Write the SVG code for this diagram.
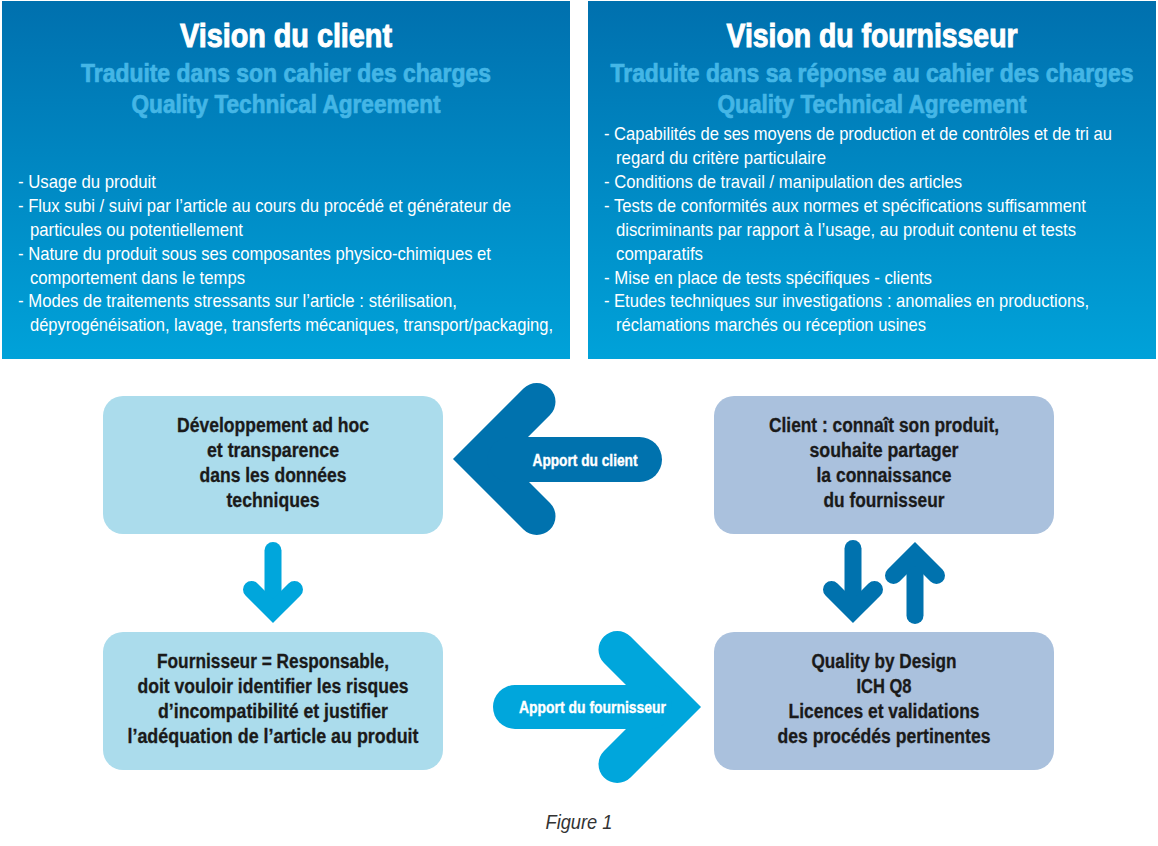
<svg xmlns="http://www.w3.org/2000/svg" width="1158" height="846" viewBox="0 0 1158 846">
<defs>
<linearGradient id="panelGrad" x1="0" y1="0" x2="0" y2="1">
<stop offset="0" stop-color="#0070ae"/>
<stop offset="1" stop-color="#00a2d9"/>
</linearGradient>
<style>
.cond{font-family:"Liberation Sans Narrow","Liberation Sans",Arial,sans-serif}
.h1{font-size:33px;font-weight:bold;fill:#ffffff;stroke:#ffffff;stroke-width:1;text-anchor:middle}
.h2{font-size:25px;font-weight:bold;fill:#44b6e6;stroke:#44b6e6;stroke-width:0.7;text-anchor:middle}
.body{font-size:18.5px;fill:#ffffff}
.node{font-size:19.5px;font-weight:bold;fill:#1a1a1a;stroke:#1a1a1a;stroke-width:0.3;text-anchor:middle}
.lbl{font-size:17px;font-weight:bold;fill:#ffffff;stroke:#ffffff;stroke-width:0.4;text-anchor:middle}
.cap{font-size:20px;font-style:italic;fill:#333333;text-anchor:middle}
.nl{fill:#abdcec}
.nr{fill:#aac1dd}
.dark{stroke:#0072ae;fill:none}
.cyan{stroke:#00a6dc;fill:none}
</style>
</defs>
<rect width="1158" height="846" fill="#ffffff"/>

<g id="panel-client">
<rect x="2" y="1" width="568" height="358" fill="url(#panelGrad)"/>
<text class="cond h1" x="286" y="47" textLength="212" lengthAdjust="spacingAndGlyphs">Vision du client</text>
<text class="cond h2" x="286" y="82" textLength="410" lengthAdjust="spacingAndGlyphs">Traduite dans son cahier des charges</text>
<text class="cond h2" x="286" y="113" textLength="309" lengthAdjust="spacingAndGlyphs">Quality Technical Agreement</text>
<text class="cond body" x="18" y="188" textLength="138" lengthAdjust="spacingAndGlyphs">- Usage du produit</text>
<text class="cond body" x="18" y="212" textLength="493" lengthAdjust="spacingAndGlyphs">- Flux subi / suivi par l’article au cours du procédé et générateur de</text>
<text class="cond body" x="30" y="236" textLength="213" lengthAdjust="spacingAndGlyphs">particules ou potentiellement</text>
<text class="cond body" x="18" y="260" textLength="473" lengthAdjust="spacingAndGlyphs">- Nature du produit sous ses composantes physico-chimiques et</text>
<text class="cond body" x="30" y="284" textLength="215" lengthAdjust="spacingAndGlyphs">comportement dans le temps</text>
<text class="cond body" x="18" y="307" textLength="439" lengthAdjust="spacingAndGlyphs">- Modes de traitements stressants sur l’article : stérilisation,</text>
<text class="cond body" x="30" y="331" textLength="523" lengthAdjust="spacingAndGlyphs">dépyrogénéisation, lavage, transferts mécaniques, transport/packaging,</text>
</g>

<g id="panel-fournisseur">
<rect x="588" y="1" width="568" height="358" fill="url(#panelGrad)"/>
<text class="cond h1" x="872" y="47" textLength="291" lengthAdjust="spacingAndGlyphs">Vision du fournisseur</text>
<text class="cond h2" x="872" y="82" textLength="523" lengthAdjust="spacingAndGlyphs">Traduite dans sa réponse au cahier des charges</text>
<text class="cond h2" x="872" y="113" textLength="309" lengthAdjust="spacingAndGlyphs">Quality Technical Agreement</text>
<text class="cond body" x="604" y="140" textLength="508" lengthAdjust="spacingAndGlyphs">- Capabilités de ses moyens de production et de contrôles et de tri au</text>
<text class="cond body" x="616" y="164" textLength="210" lengthAdjust="spacingAndGlyphs">regard du critère particulaire</text>
<text class="cond body" x="604" y="188" textLength="358" lengthAdjust="spacingAndGlyphs">- Conditions de travail / manipulation des articles</text>
<text class="cond body" x="604" y="212" textLength="482" lengthAdjust="spacingAndGlyphs">- Tests de conformités aux normes et spécifications suffisamment</text>
<text class="cond body" x="616" y="236" textLength="460" lengthAdjust="spacingAndGlyphs">discriminants par rapport à l’usage, au produit contenu et tests</text>
<text class="cond body" x="616" y="260" textLength="87" lengthAdjust="spacingAndGlyphs">comparatifs</text>
<text class="cond body" x="604" y="284" textLength="328" lengthAdjust="spacingAndGlyphs">- Mise en place de tests spécifiques - clients</text>
<text class="cond body" x="604" y="307" textLength="485" lengthAdjust="spacingAndGlyphs">- Etudes techniques sur investigations : anomalies en productions,</text>
<text class="cond body" x="616" y="331" textLength="310" lengthAdjust="spacingAndGlyphs">réclamations marchés ou réception usines</text>
</g>

<g id="node-developpement">
<rect class="nl" x="103" y="396" width="340" height="138" rx="20"/>
<text class="cond node" x="273" y="432" textLength="192" lengthAdjust="spacingAndGlyphs">Développement ad hoc</text>
<text class="cond node" x="273" y="457" textLength="132" lengthAdjust="spacingAndGlyphs">et transparence</text>
<text class="cond node" x="273" y="482" textLength="147" lengthAdjust="spacingAndGlyphs">dans les données</text>
<text class="cond node" x="273" y="507" textLength="93" lengthAdjust="spacingAndGlyphs">techniques</text>
</g>

<g id="node-client">
<rect class="nr" x="714" y="396" width="340" height="138" rx="20"/>
<text class="cond node" x="884" y="432" textLength="230" lengthAdjust="spacingAndGlyphs">Client : connaît son produit,</text>
<text class="cond node" x="884" y="457" textLength="149" lengthAdjust="spacingAndGlyphs">souhaite partager</text>
<text class="cond node" x="884" y="482" textLength="135" lengthAdjust="spacingAndGlyphs">la connaissance</text>
<text class="cond node" x="884" y="507" textLength="121" lengthAdjust="spacingAndGlyphs">du fournisseur</text>
</g>

<g id="node-fournisseur">
<rect class="nl" x="103" y="632" width="340" height="138" rx="20"/>
<text class="cond node" x="273" y="668" textLength="232" lengthAdjust="spacingAndGlyphs">Fournisseur = Responsable,</text>
<text class="cond node" x="273" y="693" textLength="271" lengthAdjust="spacingAndGlyphs">doit vouloir identifier les risques</text>
<text class="cond node" x="273" y="718" textLength="230" lengthAdjust="spacingAndGlyphs">d’incompatibilité et justifier</text>
<text class="cond node" x="273" y="743" textLength="291" lengthAdjust="spacingAndGlyphs">l’adéquation de l’article au produit</text>
</g>

<g id="node-qbd">
<rect class="nr" x="714" y="632" width="340" height="138" rx="20"/>
<text class="cond node" x="884" y="668" textLength="145" lengthAdjust="spacingAndGlyphs">Quality by Design</text>
<text class="cond node" x="884" y="693" textLength="55" lengthAdjust="spacingAndGlyphs">ICH Q8</text>
<text class="cond node" x="884" y="718" textLength="191" lengthAdjust="spacingAndGlyphs">Licences et validations</text>
<text class="cond node" x="884" y="743" textLength="213" lengthAdjust="spacingAndGlyphs">des procédés pertinentes</text>
</g>

<g id="connectors">
<g id="apport-client">
<polyline class="dark" points="536.75,401.75 479.5,459 536.75,516.25" stroke-width="37.5" stroke-linecap="round" stroke-linejoin="miter"/>
<line class="dark" x1="510" y1="459.5" x2="639.5" y2="459.5" stroke-width="45" stroke-linecap="round"/>
<text class="cond lbl" x="585" y="465.5" textLength="105" lengthAdjust="spacingAndGlyphs">Apport du client</text>
</g>
<g id="apport-fournisseur">
<polyline class="cyan" points="617.25,649.75 674.5,707 617.25,764.25" stroke-width="37.5" stroke-linecap="round" stroke-linejoin="miter"/>
<line class="cyan" x1="515" y1="707" x2="650" y2="707" stroke-width="44" stroke-linecap="round"/>
<text class="cond lbl" x="592.5" y="713" textLength="147" lengthAdjust="spacingAndGlyphs">Apport du fournisseur</text>
</g>
<g id="arrow-dev-to-fourn">
<line class="cyan" x1="273" y1="550.5" x2="273" y2="605" stroke-width="17" stroke-linecap="round"/>
<polyline class="cyan" points="251.5,589.5 273,611 294.5,589.5" stroke-width="17" stroke-linecap="round" stroke-linejoin="miter"/>
</g>
<g id="arrow-client-to-qbd">
<line class="dark" x1="853" y1="548.5" x2="853" y2="605" stroke-width="17" stroke-linecap="round"/>
<polyline class="dark" points="831.5,589.5 853,611 874.5,589.5" stroke-width="17" stroke-linecap="round" stroke-linejoin="miter"/>
</g>
<g id="arrow-qbd-to-client">
<line class="dark" x1="915" y1="560" x2="915" y2="615.5" stroke-width="17" stroke-linecap="round"/>
<polyline class="dark" points="893.5,575.5 915,554 936.5,575.5" stroke-width="17" stroke-linecap="round" stroke-linejoin="miter"/>
</g>
</g>

<text class="cond cap" x="579" y="829" textLength="67" lengthAdjust="spacingAndGlyphs">Figure 1</text>
</svg>
